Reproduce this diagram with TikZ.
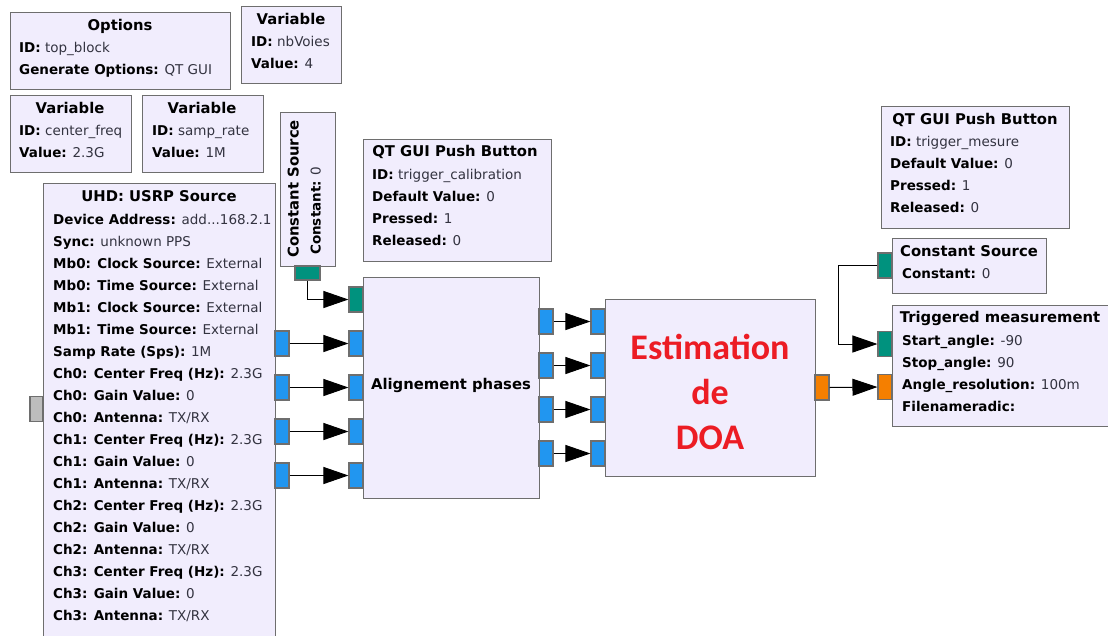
\documentclass[tikz,border=0pt]{standalone}
\usepackage{fontspec}
\setmainfont{DejaVu Sans}
\newfontfamily\doafont{Carlito}
\usetikzlibrary{arrows.meta}
\definecolor{blockbg}{HTML}{F1EDFD}
\definecolor{edge}{HTML}{6E6E6E}
\definecolor{cplx}{HTML}{2196F0}
\definecolor{flt}{HTML}{00927E}
\definecolor{fltorange}{HTML}{F57F00}
\definecolor{msg}{HTML}{BDBDBD}
\definecolor{doared}{HTML}{EC1C24}
\definecolor{valtext}{HTML}{333340}

\begin{document}
\begin{tikzpicture}[x=1pt,y=-1pt,font=\fontsize{13.5}{16}\selectfont,
    blk/.style={draw=edge,fill=blockbg,line width=1.2pt,anchor=north west,inner sep=0},
    port/.style={draw=edge,line width=1.1pt,minimum width=14pt,minimum height=25pt,inner sep=0},
    cport/.style={port,fill=cplx},
    fport/.style={port,fill=flt},
    oport/.style={port,fill=fltorange},
    mport/.style={port,fill=msg},
    txt/.style={anchor=west,inner sep=0,text height=10pt,text depth=3pt,text=valtext},
    ttl/.style={inner sep=0,text height=10pt,text depth=3pt,font=\fontsize{14.8}{16}\selectfont\bfseries},
    wire/.style={line width=1pt,-{Triangle[length=25pt,width=17pt]}}]
  \clip (0,0) rectangle (1108,635);
  \fill[white] (0,0) rectangle (1108,635);

  % variables and options
  \node[blk,minimum width=220pt,minimum height=77pt] (opts) at (10,12) {};
  \node[ttl] at (120,27) {Options};
  \node[txt] at (19,49) {\textbf{\color{black}ID:} top\_block};
  \node[txt] at (19,71) {\textbf{\color{black}Generate Options:} QT GUI};

  \node[blk,minimum width=100pt,minimum height=77pt] (nbvoies) at (241,6) {};
  \node[ttl] at (291,21) {Variable};
  \node[txt] at (251,43) {\textbf{\color{black}ID:} nbVoies};
  \node[txt] at (251,65) {\textbf{\color{black}Value:} 4};

  \node[blk,minimum width=121pt,minimum height=77pt] (cfreq) at (10,95) {};
  \node[ttl] at (70,110) {Variable};
  \node[txt] at (19,132) {\textbf{\color{black}ID:} center\_freq};
  \node[txt] at (19,154) {\textbf{\color{black}Value:} 2.3G};

  \node[blk,minimum width=121pt,minimum height=77pt] (srate) at (142,95) {};
  \node[ttl] at (202,110) {Variable};
  \node[txt] at (152,132) {\textbf{\color{black}ID:} samp\_rate};
  \node[txt] at (152,154) {\textbf{\color{black}Value:} 1M};

  % usrp source
  \node[blk,minimum width=232pt,minimum height=470pt] (usrp) at (43,183) {};
  \node[ttl] at (159,198) {UHD: USRP Source};
  \foreach \k/\v [count=\i] in {{Device Address}/{add...168.2.1},Sync/{unknown PPS},
      {Mb0: Clock Source}/External,{Mb0: Time Source}/External,
      {Mb1: Clock Source}/External,{Mb1: Time Source}/External,
      {Samp Rate (Sps)}/1M,
      {Ch0: Center Freq (Hz)}/2.3G,{Ch0: Gain Value}/0,{Ch0: Antenna}/{TX/RX},
      {Ch1: Center Freq (Hz)}/2.3G,{Ch1: Gain Value}/0,{Ch1: Antenna}/{TX/RX},
      {Ch2: Center Freq (Hz)}/2.3G,{Ch2: Gain Value}/0,{Ch2: Antenna}/{TX/RX},
      {Ch3: Center Freq (Hz)}/2.3G,{Ch3: Gain Value}/0,{Ch3: Antenna}/{TX/RX}}
    \node[txt] at (53,199+22*\i) {\textbf{\color{black}\k:} \v};
  \node[mport,minimum width=13pt] (umsg) at (36.5,409) {};

  % constant source (rotated)
  \node[blk,minimum width=55pt,minimum height=154pt] (cst1) at (280,112) {};
  \node[ttl,rotate=90] at (295,189) {Constant Source};
  \node[txt,rotate=90] at (317,255) {\textbf{\color{black}Constant:} 0};
  \node[fport,minimum width=25pt,minimum height=14pt] (cst1out) at (307.5,273) {};

  % push button calibration
  \node[blk,minimum width=188pt,minimum height=122pt] (pbcal) at (363,139) {};
  \node[ttl] at (455,153) {QT GUI Push Button};
  \node[txt] at (372,176) {\textbf{\color{black}ID:} trigger\_calibration};
  \node[txt] at (372,198) {\textbf{\color{black}Default Value:} 0};
  \node[txt] at (372,220) {\textbf{\color{black}Pressed:} 1};
  \node[txt] at (372,242) {\textbf{\color{black}Released:} 0};

  % alignement
  \node[blk,minimum width=176pt,minimum height=221pt] (align) at (363,277) {};
  \node[ttl] at (451,386) {Alignement phases};
  \node[fport] (amsg) at (356,299.5) {};
  \draw[wire] (cst1out.south) |- (amsg.west);

  % estimation de DOA
  \node[blk,minimum width=210pt,minimum height=177pt] (doa) at (605,299) {};
  \node[text=doared,align=center,font=\doafont\bfseries\fontsize{36}{45}\selectfont] at (710,392) {Estimation\\de\\DOA};

  \foreach \i/\y/\z in {0/343.5/321.5,1/387.5/365.5,2/431.5/409.5,3/475.5/453.5} {
    \node[cport] (uo\i) at (282,\y) {};
    \node[cport] (ai\i) at (356,\y) {};
    \draw[wire] (uo\i.east) -- (ai\i.west);
    \node[cport] (ao\i) at (546,\z) {};
    \node[cport] (di\i) at (598,\z) {};
    \draw[wire] (ao\i.east) -- (di\i.west);
  }
  \node[oport] (doaout) at (822,387.5) {};

  % push button mesure
  \node[blk,minimum width=188pt,minimum height=122pt] (pbmes) at (881,106) {};
  \node[ttl] at (975,121) {QT GUI Push Button};
  \node[txt] at (890,143) {\textbf{\color{black}ID:} trigger\_mesure};
  \node[txt] at (890,165) {\textbf{\color{black}Default Value:} 0};
  \node[txt] at (890,187) {\textbf{\color{black}Pressed:} 1};
  \node[txt] at (890,209) {\textbf{\color{black}Released:} 0};

  % constant source
  \node[blk,minimum width=154pt,minimum height=55pt] (cst2) at (892,238) {};
  \node[ttl] at (969,253) {Constant Source};
  \node[txt] at (902,275) {\textbf{\color{black}Constant:} 0};
  \node[fport] (cst2out) at (885,265.5) {};

  % triggered measurement
  \node[blk,minimum width=217pt,minimum height=121pt] (trig) at (892,305) {};
  \node[ttl] at (1000,319) {Triggered measurement};
  \node[txt] at (902,342) {\textbf{\color{black}Start\_angle:} -90};
  \node[txt] at (902,364) {\textbf{\color{black}Stop\_angle:} 90};
  \node[txt] at (902,386) {\textbf{\color{black}Angle\_resolution:} 100m};
  \node[txt] at (902,408) {\textbf{\color{black}Filenameradic:}};
  \node[fport] (tin0) at (885,344) {};
  \node[oport] (tin1) at (885,387) {};

  \coordinate (bend) at (838,265.5);
  \draw[line width=1pt] (cst2out.west) -- (bend);
  \draw[wire] (bend) |- (tin0.west);
  \draw[wire] (doaout.east) -- (tin1.west);
\end{tikzpicture}
\end{document}
